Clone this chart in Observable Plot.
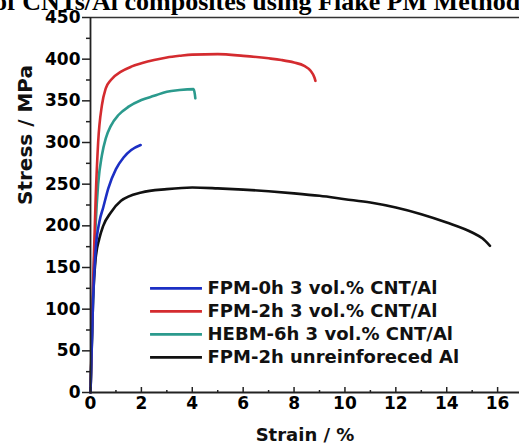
<!DOCTYPE html>
<html>
<head>
<meta charset="utf-8">
<script src="https://cdn.jsdelivr.net/npm/d3@7"></script>
<script src="https://cdn.jsdelivr.net/npm/@observablehq/plot@0.6"></script>
<style>
  body { margin: 0; background: #fff; }
  #wrap { position: relative; width: 519px; height: 445px; overflow: hidden; background: #fff; }
  #title { position: absolute; left: -6px; top: -13px; line-height: 1; white-space: nowrap;
           font: bold 26px "Liberation Serif", "Times New Roman", serif; color: #000; }
  #chart { position: absolute; left: 0; top: 0; }
</style>
</head>
<body>
<div id="wrap">
  <div id="title">of CNTs/Al composites using Flake PM Method</div>
  <div id="chart"></div>
</div>
<script>
const seriesNames = [
  "FPM-0h 3 vol.% CNT/Al",
  "FPM-2h 3 vol.% CNT/Al",
  "HEBM-6h 3 vol.% CNT/Al",
  "FPM-2h unreinforeced Al"
];
const seriesColors = ["#1c2fc4", "#d42b2f", "#2b9a8d", "#111111"];

const strainFPM0 = [0, 0.1, 0.2, 0.35, 0.5, 0.7, 1.0, 1.3, 1.6, 1.97];
const stressFPM0 = [0, 110, 170, 205, 222, 245, 268, 282, 291, 297];

const strainFPM2 = [0, 0.1, 0.2, 0.3, 0.45, 0.6, 0.8, 1.2, 1.6, 2.0, 2.5, 3.0, 3.5, 4.0, 5.0, 6.0, 7.0, 7.5, 8.0, 8.4, 8.65, 8.8, 8.84];
const stressFPM2 = [0, 130, 230, 300, 345, 365, 375, 385, 391, 395, 399, 402, 404, 405.5, 406, 404, 401, 399, 396, 392, 386, 378, 374];

const strainHEBM = [0, 0.1, 0.2, 0.3, 0.45, 0.6, 0.8, 1.1, 1.5, 2.0, 2.5, 3.0, 3.5, 4.05, 4.1, 4.12];
const stressHEBM = [0, 120, 200, 250, 285, 305, 320, 333, 343, 351, 356, 361, 363, 364, 358, 353];

const strainAl = [0, 0.1, 0.2, 0.35, 0.5, 0.8, 1.2, 2, 3, 4, 5, 6, 7, 8, 9, 10, 11, 12, 13, 14, 15, 15.4, 15.7];
const stressAl = [0, 110, 160, 185, 200, 216, 230, 240, 244, 246, 245, 243.5, 241.5, 239, 236, 232, 228, 222, 214, 204, 192, 185, 176];

const xTickValues = [0, 2, 4, 6, 8, 10, 12, 14, 16];
const xMinorTicks = [1, 3, 5, 7, 9, 11, 13, 15];
const yTickValues = [0, 50, 100, 150, 200, 250, 300, 350, 400, 450];
const yMinorTicks = [25, 75, 125, 175, 225, 275, 325, 375, 425];

const strains = [strainFPM0, strainFPM2, strainHEBM, strainAl];
const stresses = [stressFPM0, stressFPM2, stressHEBM, stressAl];
const curves = strains.flatMap((xs, i) => xs.map((x, j) => ({series: seriesNames[i], strain: x, stress: stresses[i][j]})));
const drawOrder = [3, 2, 1, 0];

const legend = seriesNames.map((name, i) => ({name, color: seriesColors[i], y: 125 - i * 27.6}));

const font = '"DejaVu Sans", sans-serif';

const chart = Plot.plot({
  width: 519,
  height: 445,
  marginLeft: 90,
  marginRight: 0,
  marginTop: 17,
  marginBottom: 53,
  style: {fontFamily: font, background: "transparent"},
  x: {domain: [0, 16.86]},
  y: {domain: [0, 450]},
  color: {domain: seriesNames, range: seriesColors},
  marks: [
    ...drawOrder.map(i => Plot.line(curves.filter(d => d.series === seriesNames[i]), {
      x: "strain", y: "stress", stroke: seriesColors[i], strokeWidth: 2.6, curve: "monotone-x"
    })),
    Plot.ruleY([450], {stroke: "#333", strokeWidth: 1.6}),
    Plot.ruleY([0], {stroke: "#222", strokeWidth: 1.8}),
    Plot.ruleX([0], {stroke: "#222", strokeWidth: 1.8}),
    Plot.axisY({ticks: yTickValues, tickSize: 8, tickPadding: 2, tickFormat: d => d,
      fontSize: 17, fontWeight: "bold", stroke: "#222", strokeWidth: 1.5, label: null}),
    Plot.axisY({ticks: yMinorTicks, tickSize: 4, text: null, stroke: "#222", strokeWidth: 1.5, label: null}),
    Plot.axisX({ticks: xTickValues, tickSize: 0, tickPadding: 4, tickFormat: d => d,
      fontSize: 17, fontWeight: "bold", label: null}),
    Plot.axisX({ticks: xTickValues, tickSize: 6, text: null, dy: -5, stroke: "#222", strokeWidth: 1.5, label: null}),
    Plot.axisX({ticks: xMinorTicks, tickSize: 3, text: null, dy: -2, stroke: "#222", strokeWidth: 1.5, label: null}),
    Plot.text(["Strain / %"], {frameAnchor: "bottom", dy: 48, fontSize: 18, fontWeight: "bold", fill: "#111"}),
    Plot.text(["Stress / MPa"], {frameAnchor: "left", dx: -65, rotate: -90, fontSize: 20, fontWeight: "bold", fill: "#111"}),
    Plot.ruleY(legend, {x1: 2.36, x2: 4.4, y: "y", stroke: "color", strokeWidth: 2.6}),
    Plot.text(legend, {x: 4.6, y: "y", text: "name", textAnchor: "start", fontSize: 18, fontWeight: "bold", fill: "#111", style: "letter-spacing:0.4px"})
  ]
});
document.getElementById("chart").appendChild(chart);
</script>
</body>
</html>
